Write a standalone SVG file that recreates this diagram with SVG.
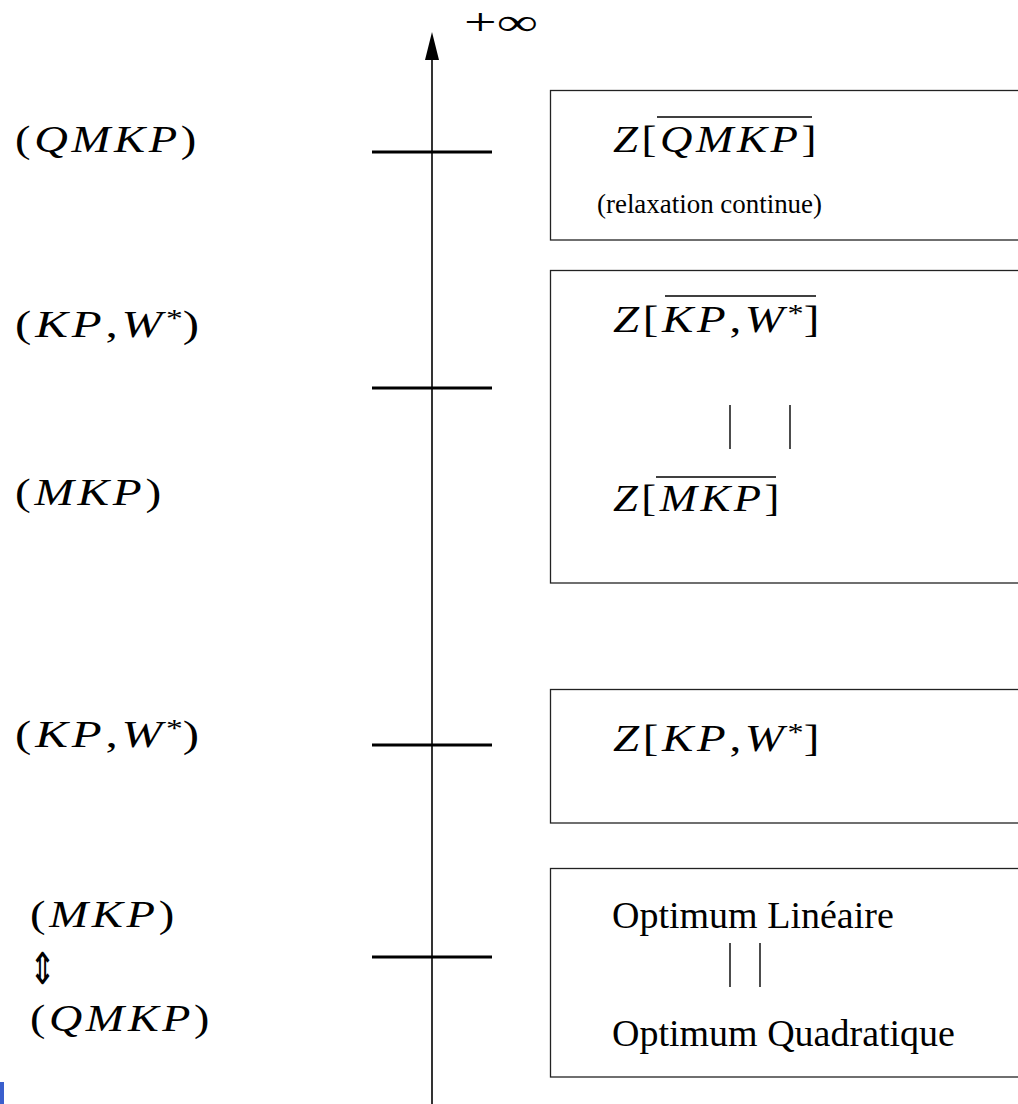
<svg xmlns="http://www.w3.org/2000/svg" width="1018" height="1104" viewBox="0 0 1018 1104">
<style>
  .m { font-family: "Liberation Serif", "Times New Roman", serif; font-size: 38px; letter-spacing: 3px; fill: #000; }
  .i { font-style: italic; }
  .t { font-family: "Liberation Serif", "Times New Roman", serif; font-size: 38px; fill: #000; }
  .small { font-size: 28px; }
  .sup { font-size: 26px; letter-spacing: 0; }
  .box { fill: #fff; stroke: #222; stroke-width: 1.3; }
  .tick { stroke: #000; stroke-width: 3; }
  .axis { stroke: #000; stroke-width: 1.6; fill: none; }
  .ov { stroke: #000; stroke-width: 1.6; }
  .bar { stroke: #000; stroke-width: 1.4; }
</style>
<rect x="0" y="0" width="1018" height="1104" fill="#fff"/>

<g id="connectors">
  <line class="axis" x1="432" y1="1104" x2="432" y2="58"/>
  <path d="M432 32 L439 60 L425 60 Z" fill="#000"/>
  <line class="tick" x1="372" y1="152" x2="492" y2="152"/>
  <line class="tick" x1="372" y1="388" x2="492" y2="388"/>
  <line class="tick" x1="372" y1="745" x2="492" y2="745"/>
  <line class="tick" x1="372" y1="957" x2="492" y2="957"/>
</g>

<g id="axis-label">
  <text x="464" y="35" font-family="Liberation Serif, serif" font-size="38" textLength="74" lengthAdjust="spacingAndGlyphs">+∞</text>
</g>

<g id="label-qmkp-top">
  <text class="m" x="15" y="152" textLength="185" lengthAdjust="spacingAndGlyphs">(<tspan class="i">QMKP</tspan>)</text>
</g>
<g id="label-kpw-1">
  <text class="m" x="15" y="337" textLength="188" lengthAdjust="spacingAndGlyphs">(<tspan class="i">KP</tspan>,<tspan class="i">W</tspan><tspan class="sup" dy="-10">*</tspan><tspan dy="10">)</tspan></text>
</g>
<g id="label-mkp-1">
  <text class="m" x="15" y="505" textLength="150" lengthAdjust="spacingAndGlyphs">(<tspan class="i">MKP</tspan>)</text>
</g>
<g id="label-kpw-2">
  <text class="m" x="15" y="747" textLength="188" lengthAdjust="spacingAndGlyphs">(<tspan class="i">KP</tspan>,<tspan class="i">W</tspan><tspan class="sup" dy="-10">*</tspan><tspan dy="10">)</tspan></text>
</g>
<g id="label-equiv">
  <text class="m" x="30" y="927" textLength="148" lengthAdjust="spacingAndGlyphs">(<tspan class="i">MKP</tspan>)</text>
  <text transform="translate(29,984) scale(0.9,1.22)" x="0" y="0" font-family="DejaVu Sans, sans-serif" font-size="36" fill="#000">⇕</text>
  <text class="m" x="30" y="1031" textLength="183" lengthAdjust="spacingAndGlyphs">(<tspan class="i">QMKP</tspan>)</text>
</g>

<g id="box-qmkp">
  <rect class="box" x="550.5" y="90.5" width="480" height="149.5"/>
  <text class="m" x="613" y="152" textLength="207" lengthAdjust="spacingAndGlyphs"><tspan class="i">Z</tspan>[<tspan class="i">QMKP</tspan>]</text>
  <line class="ov" x1="657" y1="117" x2="812" y2="117"/>
  <text class="t small" x="597" y="213" textLength="225" lengthAdjust="spacingAndGlyphs">(relaxation continue)</text>
</g>

<g id="box-kpw-mkp">
  <rect class="box" x="550.5" y="270.5" width="480" height="312.5"/>
  <text class="m" x="613" y="332" textLength="210" lengthAdjust="spacingAndGlyphs"><tspan class="i">Z</tspan>[<tspan class="i">KP</tspan>,<tspan class="i">W</tspan><tspan class="sup" dy="-10">*</tspan><tspan dy="10">]</tspan></text>
  <line class="ov" x1="665" y1="296" x2="816" y2="296"/>
  <line class="bar" x1="730" y1="405" x2="730" y2="449"/>
  <line class="bar" x1="790" y1="405" x2="790" y2="449"/>
  <text class="m" x="613" y="511" textLength="170" lengthAdjust="spacingAndGlyphs"><tspan class="i">Z</tspan>[<tspan class="i">MKP</tspan>]</text>
  <line class="ov" x1="656" y1="477" x2="776" y2="477"/>
</g>

<g id="box-kpw">
  <rect class="box" x="550.5" y="689.5" width="480" height="133.5"/>
  <text class="m" x="613" y="751" textLength="210" lengthAdjust="spacingAndGlyphs"><tspan class="i">Z</tspan>[<tspan class="i">KP</tspan>,<tspan class="i">W</tspan><tspan class="sup" dy="-10">*</tspan><tspan dy="10">]</tspan></text>
</g>

<g id="box-optimum">
  <rect class="box" x="550.5" y="868.5" width="480" height="208.5"/>
  <text class="t" x="612" y="928">Optimum Linéaire</text>
  <line class="bar" x1="730" y1="943" x2="730" y2="987"/>
  <line class="bar" x1="760" y1="943" x2="760" y2="987"/>
  <text class="t" x="612" y="1046">Optimum Quadratique</text>
</g>

<rect x="0" y="1082" width="4" height="22" fill="#3a5fcd"/>
</svg>
